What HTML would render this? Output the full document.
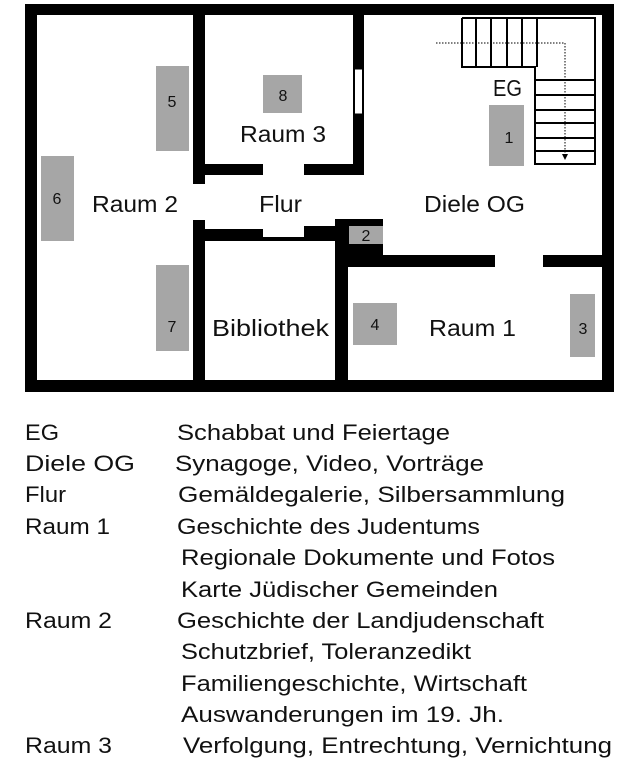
<!DOCTYPE html>
<html><head><meta charset="utf-8"><style>
html,body{margin:0;padding:0;background:#fff;width:634px;height:784px;overflow:hidden}
svg{display:block}
text{font-family:"Liberation Sans",sans-serif;fill:#111}
</style></head><body>
<svg width="634" height="784" viewBox="0 0 634 784">
<rect x="25" y="4" width="589" height="388" fill="#000"/>
<rect x="37" y="15" width="565" height="365" fill="#fff"/>
<rect x="193" y="14" width="12" height="170" fill="#000"/>
<rect x="193" y="164" width="70" height="11" fill="#000"/>
<rect x="304" y="164" width="60" height="11" fill="#000"/>
<rect x="353" y="14" width="11" height="161" fill="#000"/>
<rect x="354.5" y="69" width="8" height="45" fill="#fff" stroke="#000" stroke-width="1"/>
<rect x="193" y="220" width="12" height="160" fill="#000"/>
<rect x="193" y="229" width="70" height="12" fill="#000"/>
<rect x="263" y="237" width="42" height="4" fill="#000"/>
<rect x="304" y="226" width="44" height="15" fill="#000"/>
<rect x="335" y="219" width="13" height="161" fill="#000"/>
<rect x="336" y="219" width="47" height="36" fill="#000"/>
<rect x="336" y="255" width="159" height="12" fill="#000"/>
<rect x="543" y="255" width="59" height="12" fill="#000"/>
<g fill="#a6a6a6">
<rect x="349" y="226" width="34" height="18"/>
<rect x="156" y="66" width="33" height="85"/>
<rect x="263" y="75" width="39" height="38"/>
<rect x="41" y="156" width="33" height="85"/>
<rect x="156" y="265" width="33" height="86"/>
<rect x="353" y="303" width="44" height="42"/>
<rect x="570" y="294" width="25" height="63"/>
<rect x="489" y="105" width="35" height="61"/>
</g>
<g font-size="16" text-anchor="middle">
<text x="366" y="241">2</text>
<text x="172" y="107">5</text>
<text x="283" y="101">8</text>
<text x="57" y="204">6</text>
<text x="172" y="332">7</text>
<text x="375" y="330">4</text>
<text x="583" y="334">3</text>
<text x="509" y="143">1</text>
</g>
<g fill="none" stroke="#000" stroke-width="2">
<polyline points="462,18 595,18 595,164 535,164 535,67 462,67 462,18"/>
<line x1="476" y1="18" x2="476" y2="67"/>
<line x1="491" y1="18" x2="491" y2="67"/>
<line x1="507" y1="18" x2="507" y2="67"/>
<line x1="522" y1="18" x2="522" y2="67"/>
<line x1="537" y1="18" x2="537" y2="67"/>
<line x1="535" y1="80" x2="595" y2="80"/>
<line x1="535" y1="95" x2="595" y2="95"/>
<line x1="535" y1="110" x2="595" y2="110"/>
<line x1="535" y1="123" x2="595" y2="123"/>
<line x1="535" y1="138" x2="595" y2="138"/>
<line x1="535" y1="151" x2="595" y2="151"/>
</g>
<polyline points="436,43 565,43 565,155" fill="none" stroke="#000" stroke-width="1" stroke-dasharray="1.5,1.5"/>
<polygon points="562,154 568,154 565,160" fill="#000"/>
<g font-size="23">
<text x="240" y="142" textLength="86" lengthAdjust="spacingAndGlyphs">Raum 3</text>
<text x="92" y="212" textLength="86" lengthAdjust="spacingAndGlyphs">Raum 2</text>
<text x="259" y="212" textLength="43" lengthAdjust="spacingAndGlyphs">Flur</text>
<text x="424" y="212" textLength="101" lengthAdjust="spacingAndGlyphs">Diele OG</text>
<text x="212" y="336" textLength="117" lengthAdjust="spacingAndGlyphs">Bibliothek</text>
<text x="429" y="336" textLength="87" lengthAdjust="spacingAndGlyphs">Raum 1</text>
<text x="493" y="96" textLength="29" lengthAdjust="spacingAndGlyphs">EG</text>
</g>
<g font-size="22">
<text x="25" y="440" textLength="34" lengthAdjust="spacingAndGlyphs">EG</text>
<text x="177" y="440" textLength="273" lengthAdjust="spacingAndGlyphs">Schabbat und Feiertage</text>
<text x="25" y="471" textLength="110" lengthAdjust="spacingAndGlyphs">Diele OG</text>
<text x="175" y="471" textLength="309" lengthAdjust="spacingAndGlyphs">Synagoge, Video, Vorträge</text>
<text x="25" y="502" textLength="41" lengthAdjust="spacingAndGlyphs">Flur</text>
<text x="178" y="502" textLength="387" lengthAdjust="spacingAndGlyphs">Gemäldegalerie, Silbersammlung</text>
<text x="25" y="534" textLength="85" lengthAdjust="spacingAndGlyphs">Raum 1</text>
<text x="177" y="534" textLength="303" lengthAdjust="spacingAndGlyphs">Geschichte des Judentums</text>
<text x="181" y="565" textLength="374" lengthAdjust="spacingAndGlyphs">Regionale Dokumente und Fotos</text>
<text x="181" y="597" textLength="317" lengthAdjust="spacingAndGlyphs">Karte Jüdischer Gemeinden</text>
<text x="25" y="628" textLength="87" lengthAdjust="spacingAndGlyphs">Raum 2</text>
<text x="177" y="628" textLength="367" lengthAdjust="spacingAndGlyphs">Geschichte der Landjudenschaft</text>
<text x="181" y="659" textLength="290" lengthAdjust="spacingAndGlyphs">Schutzbrief, Toleranzedikt</text>
<text x="181" y="691" textLength="346" lengthAdjust="spacingAndGlyphs">Familiengeschichte, Wirtschaft</text>
<text x="181" y="722" textLength="323" lengthAdjust="spacingAndGlyphs">Auswanderungen im 19. Jh.</text>
<text x="25" y="753" textLength="87" lengthAdjust="spacingAndGlyphs">Raum 3</text>
<text x="183" y="753" textLength="429" lengthAdjust="spacingAndGlyphs">Verfolgung, Entrechtung, Vernichtung</text>
</g>
</svg>
</body></html>
